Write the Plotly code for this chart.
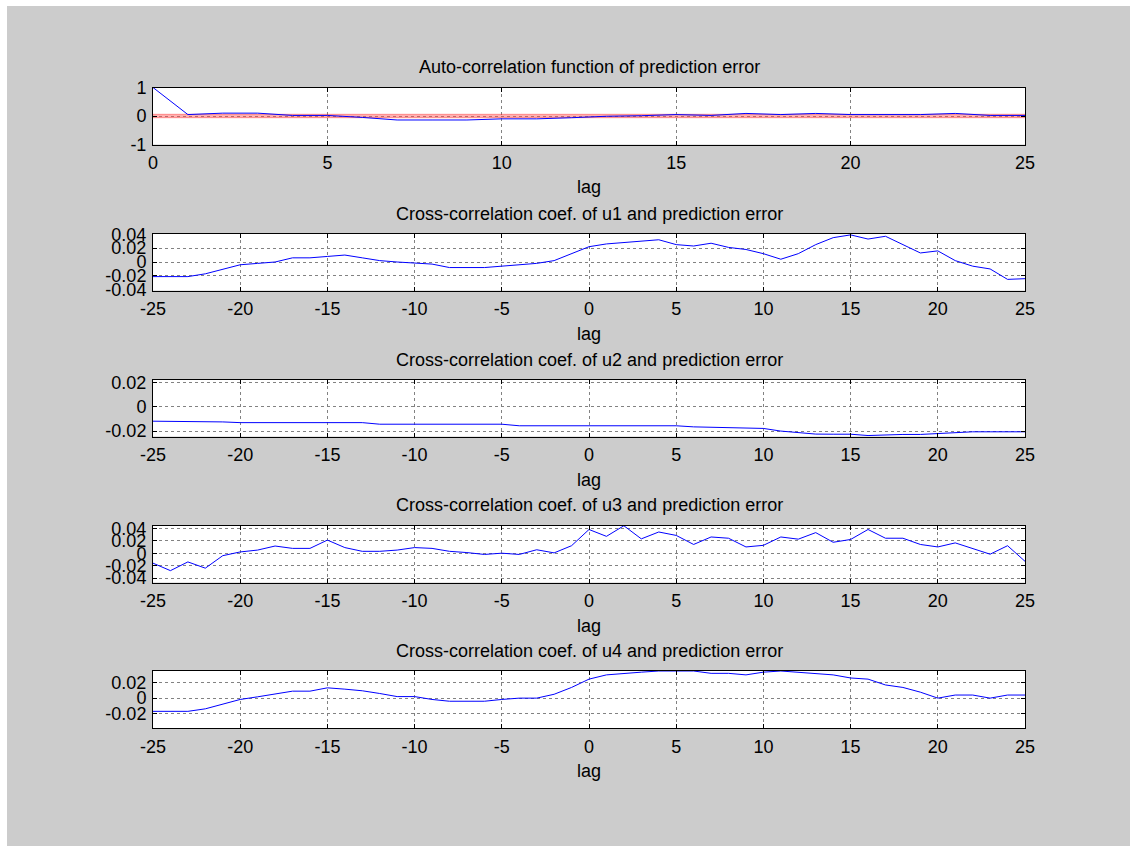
import plotly.graph_objects as go

W, H = 1130, 846

# ---------------- data ----------------
lags_acf = list(range(0, 26))
acf = [1.0, 0.05, 0.10, 0.10, 0.02, 0.02, -0.05, -0.14, -0.14, -0.14, -0.10, -0.10,
       -0.06, -0.01, 0.01, 0.05, 0.02, 0.09, 0.05, 0.09, 0.05, 0.05, 0.05, 0.09, 0.02, 0.02]
conf_acf = 0.06

lags_cc = list(range(-25, 26))
cc_u1 = [-0.021, -0.021, -0.021, -0.017, -0.011, -0.004, -0.002, 0.000, 0.006, 0.006,
         0.008, 0.010, 0.006, 0.002, 0.000, -0.001, -0.003, -0.008, -0.008, -0.008,
         -0.006, -0.004, -0.002, 0.002, 0.012, 0.022, 0.026, 0.028, 0.030, 0.032,
         0.025, 0.023, 0.027, 0.021, 0.018, 0.012, 0.004, 0.012, 0.025, 0.035,
         0.039, 0.033, 0.037, 0.025, 0.013, 0.016, 0.002, -0.006, -0.010, -0.025, -0.024]
cc_u2 = [-0.0118, -0.0118, -0.0118, -0.0118, -0.0124, -0.0130, -0.0130, -0.0130, -0.0130, -0.0130,
         -0.0130, -0.0130, -0.0130, -0.0143, -0.0143, -0.0143, -0.0143, -0.0143, -0.0143, -0.0143,
         -0.0143, -0.0156, -0.0156, -0.0156, -0.0156, -0.0156, -0.0156, -0.0156, -0.0156, -0.0156,
         -0.0156, -0.0165, -0.0168, -0.0168, -0.0170, -0.0178, -0.0200, -0.0212, -0.0225, -0.0226,
         -0.0226, -0.0237, -0.0230, -0.0228, -0.0228, -0.0220, -0.0208, -0.0206, -0.0206, -0.0206, -0.0206]
cc_u3 = [-0.016, -0.028, -0.014, -0.024, -0.004, 0.002, 0.005, 0.0115, 0.0077, 0.0077,
         0.021, 0.009, 0.003, 0.003, 0.005, 0.009, 0.0077, 0.003, 0.001, -0.002,
         0.000, -0.002, 0.0055, 0.0005, 0.012, 0.038, 0.027, 0.044, 0.023, 0.034,
         0.0285, 0.014, 0.026, 0.024, 0.010, 0.0126, 0.026, 0.0225, 0.033, 0.0175,
         0.022, 0.038, 0.024, 0.024, 0.014, 0.010, 0.0165, 0.0077, -0.0016, 0.012, -0.013]
cc_u4 = [-0.017, -0.017, -0.017, -0.0138, -0.0077, -0.0017, 0.0017, 0.005, 0.009, 0.009,
         0.0133, 0.0116, 0.0095, 0.006, 0.002, 0.002, -0.0017, -0.004, -0.004, -0.004,
         -0.0017, 0.000, 0.000, 0.005, 0.0138, 0.0245, 0.030, 0.032, 0.0335, 0.035,
         0.035, 0.035, 0.032, 0.032, 0.030, 0.0335, 0.035, 0.0335, 0.032, 0.030,
         0.026, 0.0245, 0.017, 0.0138, 0.0077, 0.000, 0.004, 0.004, 0.000, 0.004, 0.004]

titles = ["Auto-correlation function of prediction error",
          "Cross-correlation coef. of u1 and prediction error",
          "Cross-correlation coef. of u2 and prediction error",
          "Cross-correlation coef. of u3 and prediction error",
          "Cross-correlation coef. of u4 and prediction error"]
x_label = "lag"

y_ranges = [[-1, 1], [-0.041, 0.041], [-0.0245, 0.0228], [-0.047, 0.0444], [-0.0385, 0.035]]
y_ticks = [[-1, 0, 1],
           [-0.04, -0.02, 0, 0.02, 0.04],
           [-0.02, 0, 0.02],
           [-0.04, -0.02, 0, 0.02, 0.04],
           [-0.02, 0, 0.02]]
y_ticktext = [["-1", "0", "1"],
              ["-0.04", "-0.02", "0", "0.02", "0.04"],
              ["-0.02", "0", "0.02"],
              ["-0.04", "-0.02", "0", "0.02", "0.04"],
              ["-0.02", "0", "0.02"]]
x_ranges = [[0, 25]] + [[-25, 25]] * 4
x_ticks = [[0, 5, 10, 15, 20, 25]] + [[-25, -20, -15, -10, -5, 0, 5, 10, 15, 20, 25]] * 4
x_ticktext = [["0", "5", "10", "15", "20", "25"]] + \
             [["-25", "-20", "-15", "-10", "-5", "0", "5", "10", "15", "20", "25"]] * 4

# ---------------- layout geometry (pixels) ----------------
X0, X1 = 153, 1025
tops = [87.5, 233.5, 379.5, 525.5, 671.0]
AX_H = 57.0

FONT = "Liberation Sans, Arial, Helvetica, sans-serif"
FS = 18
fig = go.Figure()

series = [(lags_acf, acf)] + [(lags_cc, s) for s in (cc_u1, cc_u2, cc_u3, cc_u4)]

# confidence band for auto-correlation
fig.add_trace(go.Scatter(x=[lags_acf[0], lags_acf[-1]], y=[conf_acf, conf_acf], mode="lines",
                         line=dict(color="rgba(255,0,0,0.35)", width=1), showlegend=False,
                         xaxis="x", yaxis="y", hoverinfo="skip"))
fig.add_trace(go.Scatter(x=[lags_acf[0], lags_acf[-1]], y=[-conf_acf, -conf_acf], mode="lines",
                         line=dict(color="rgba(255,0,0,0.35)", width=1), fill="tonexty",
                         fillcolor="rgba(255,80,80,0.45)", showlegend=False,
                         xaxis="x", yaxis="y", hoverinfo="skip"))

for i, (xs, ys) in enumerate(series):
    k = "" if i == 0 else str(i + 1)
    fig.add_trace(go.Scatter(x=xs, y=ys, mode="lines", line=dict(color="#0000ff", width=1),
                             showlegend=False, xaxis="x" + k, yaxis="y" + k))

annotations = []
for i in range(5):
    k = "" if i == 0 else str(i + 1)
    top = tops[i]
    bot = top + AX_H
    xd = [X0 / W, X1 / W]
    yd = [1 - bot / H, 1 - top / H]
    common = dict(showline=True, linecolor="black", linewidth=1, mirror="allticks",
                  ticks="inside", ticklen=4, tickcolor="black", tickwidth=1,
                  showgrid=True, gridcolor="rgb(130,130,130)", griddash="dot", gridwidth=1,
                  zeroline=False, automargin=False,
                  tickfont=dict(family=FONT, size=FS, color="black"))
    fig.layout["xaxis" + k] = dict(domain=xd, range=x_ranges[i], tickvals=x_ticks[i],
                                   ticktext=x_ticktext[i], anchor="y" + k,
                                   ticklabelstandoff=2, **common)
    fig.layout["yaxis" + k] = dict(domain=yd, range=y_ranges[i], tickvals=y_ticks[i],
                                   ticktext=y_ticktext[i], anchor="x" + k,
                                   ticklabelstandoff=2, **common)
    annotations.append(dict(text=titles[i], x=(X0 + X1) / 2 / W, y=1 - (top - 20) / H,
                            xref="paper", yref="paper", showarrow=False,
                            xanchor="center", yanchor="middle",
                            font=dict(family=FONT, size=FS, color="black")))
    annotations.append(dict(text=x_label, x=(X0 + X1) / 2 / W, y=1 - (bot + 43) / H,
                            xref="paper", yref="paper", showarrow=False,
                            xanchor="center", yanchor="middle",
                            font=dict(family=FONT, size=FS, color="black")))

shapes = [
    dict(type="rect", xref="paper", yref="paper", x0=0, x1=7 / W, y0=0, y1=1,
         fillcolor="white", line=dict(width=0), layer="below"),
    dict(type="rect", xref="paper", yref="paper", x0=0, x1=1, y0=1 - 6 / H, y1=1,
         fillcolor="white", line=dict(width=0), layer="below"),
]

fig.update_layout(width=W, height=H, autosize=False,
                  margin=dict(l=0, r=0, t=0, b=0, pad=0, autoexpand=False),
                  paper_bgcolor="#cccccc", plot_bgcolor="white",
                  annotations=annotations, shapes=shapes, showlegend=False)

fig.write_html("out.html", config={"displayModeBar": False},
               post_script="document.body.style.margin='0px';"
                           "document.body.style.overflow='hidden';")
